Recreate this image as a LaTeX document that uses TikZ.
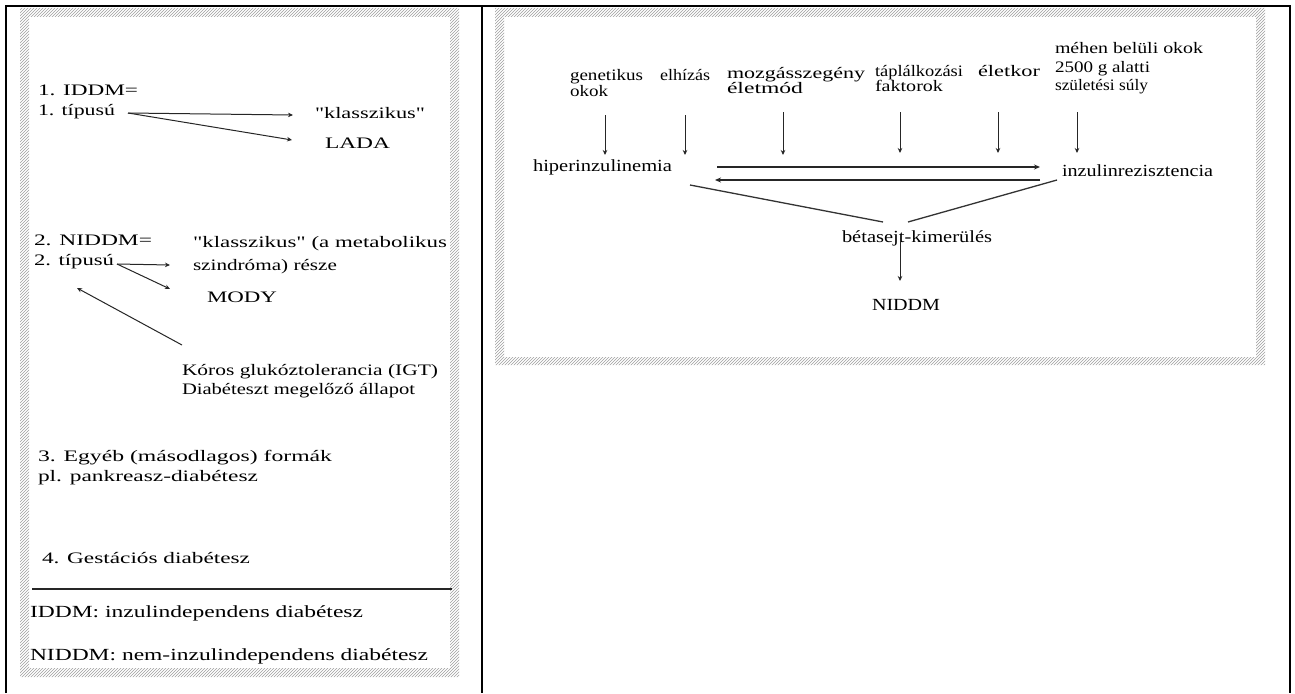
\documentclass[tikz,border=0pt]{standalone}
\usepackage{graphicx}
\usepackage{fontspec}
\setmainfont{Liberation Serif}[Ligatures=TeXOff]
\usetikzlibrary{patterns,arrows.meta}
\newcommand\wt[2]{\resizebox{#1pt}{\height}{#2}}
\tikzset{
  txt/.style={inner sep=0pt, outer sep=0pt, anchor=base west, font=\fontsize{16}{19}\selectfont},
  txtb/.style={txt, font=\fontsize{17}{20}\selectfont},
  txtr/.style={txt, font=\fontsize{17}{20}\selectfont},
  arr/.style={-{Stealth[length=5pt,width=4.5pt]}, line width=1pt, black!85},
  darr/.style={-{Stealth[length=6pt,width=5pt]}, line width=1.8pt, black!85},
  plain/.style={line width=1.3pt, black!80},
  hatch/.style={pattern=north east lines, pattern color=gray!75, even odd rule},
  rule/.style={line width=2pt, black}
}
\begin{document}
\begin{tikzpicture}[x=1pt,y=-1pt]
\useasboundingbox (0,0) rectangle (1295,693);
\fill[white] (0,0) rectangle (1295,693);
% table lines
\draw[rule] (6,693) -- (6,6) -- (1290,6) -- (1290,693);
\draw[rule] (482,6) -- (482,693);
% hatched frames
\fill[hatch] (20,8) rectangle (459,677) (29,17) rectangle (450,668);
\fill[hatch] (495,8) rectangle (1265,365) (504,17) rectangle (1256,357);

% ---------- left panel ----------
\node[txt] (iddm) at (38,95) {\wt{100}{1. IDDM=}};
\node[txt] (typ1) at (38,115) {\wt{77}{1. típusú}};
\node[txt] (klas1) at (315,118) {\wt{110}{"klasszikus"}};
\node[txt] (lada) at (325,148) {\wt{65}{LADA}};
\coordinate (t1s) at (128,113);
\coordinate (k1e) at (293,115);
\coordinate (l1e) at (292,140);
\draw[arr] (t1s) -- (k1e);
\draw[arr] (t1s) -- (l1e);

\node[txt] (niddm) at (34,245) {\wt{118}{2. NIDDM=}};
\node[txt] (typ2) at (34,265) {\wt{80}{2. típusú}};
\node[txt] (klas2) at (193,247) {\wt{254}{"klasszikus" (a metabolikus}};
\node[txt] (klas2b) at (193,270) {\wt{144}{szindróma) része}};
\node[txt] (mody) at (207,302) {\wt{70}{MODY}};
\coordinate (t2s) at (117,264);
\coordinate (k2e) at (170,265);
\coordinate (m2e) at (170,289);
\draw[arr] (t2s) -- (k2e);
\draw[arr] (t2s) -- (m2e);

\node[txt] (igt) at (182,375) {\wt{256}{Kóros glukóztolerancia (IGT)}};
\node[txt] (igtb) at (182,394) {\wt{233}{Diabéteszt megelőző állapot}};
\coordinate (igs) at (182,345);
\coordinate (ige) at (77,288);
\draw[arr] (igs) -- (ige);

\node[txt] (egyeb) at (38,461) {\wt{294}{3. Egyéb (másodlagos) formák}};
\node[txt] (pankr) at (38,481) {\wt{220}{pl. pankreasz-diabétesz}};
\node[txt] (gest) at (42,563) {\wt{208}{4. Gestációs diabétesz}};
\coordinate (ra) at (32,589);
\coordinate (rb) at (452,589);
\draw[line width=2.5pt, black!85] (ra) -- (rb);
\node[txtb] (def1) at (30,617) {\wt{333}{IDDM: inzulindependens diabétesz}};
\node[txtb] (def2) at (30,660) {\wt{398}{NIDDM: nem-inzulindependens diabétesz}};

% ---------- right panel ----------
\node[txt] (gen) at (570,81) {\wt{73}{genetikus}};
\node[txt] (genb) at (570,96) {\wt{38}{okok}};
\node[txt] (elh) at (660,81) {\wt{50}{elhízás}};
\node[txt] (moz) at (727,78) {\wt{138}{mozgásszegény}};
\node[txt] (mozb) at (727,93) {\wt{76}{életmód}};
\node[txt] (tap) at (875,76) {\wt{88}{táplálkozási}};
\node[txt] (tapb) at (875,92) {\wt{68}{faktorok}};
\node[txt] (elet) at (978,76) {\wt{62}{életkor}};
\node[txt] (meh) at (1055,53) {\wt{148}{méhen belüli okok}};
\node[txt] (mehb) at (1055,72) {\wt{95}{2500 g alatti}};
\node[txt] (mehc) at (1055,90) {\wt{93}{születési súly}};

\node[txtr] (hiper) at (533,171) {\wt{139}{hiperinzulinemia}};
\node[txtr] (inzr) at (1062,176) {\wt{151}{inzulinrezisztencia}};
\node[txtr] (beta) at (842,242) {\wt{150}{bétasejt-kimerülés}};
\node[txtr] (nid) at (872,310) {\wt{68}{NIDDM}};

\foreach \n/\x/\a/\b in {a/605/115/155, b/685/115/155, c/783/112/155, d/900/112/153, e/998/112/153, f/1077/112/153}{
  \coordinate (v\n s) at (\x,\a);
  \coordinate (v\n e) at (\x,\b);
  \draw[arr] (v\n s) -- (v\n e);
}

\coordinate (h1s) at (717,167);
\coordinate (h1e) at (1040,167);
\coordinate (h2s) at (1040,180);
\coordinate (h2e) at (715,180);
\draw[darr] (h1s) -- (h1e);
\draw[darr] (h2s) -- (h2e);

\coordinate (lh) at (690,185);
\coordinate (lb1) at (883,222);
\coordinate (li) at (1057,180);
\coordinate (lb2) at (908,222);
\draw[plain] (lh) -- (lb1);
\draw[plain] (li) -- (lb2);

\coordinate (bs) at (900,236);
\coordinate (be) at (900,281);
\draw[arr] (bs) -- (be);
\end{tikzpicture}
\end{document}
